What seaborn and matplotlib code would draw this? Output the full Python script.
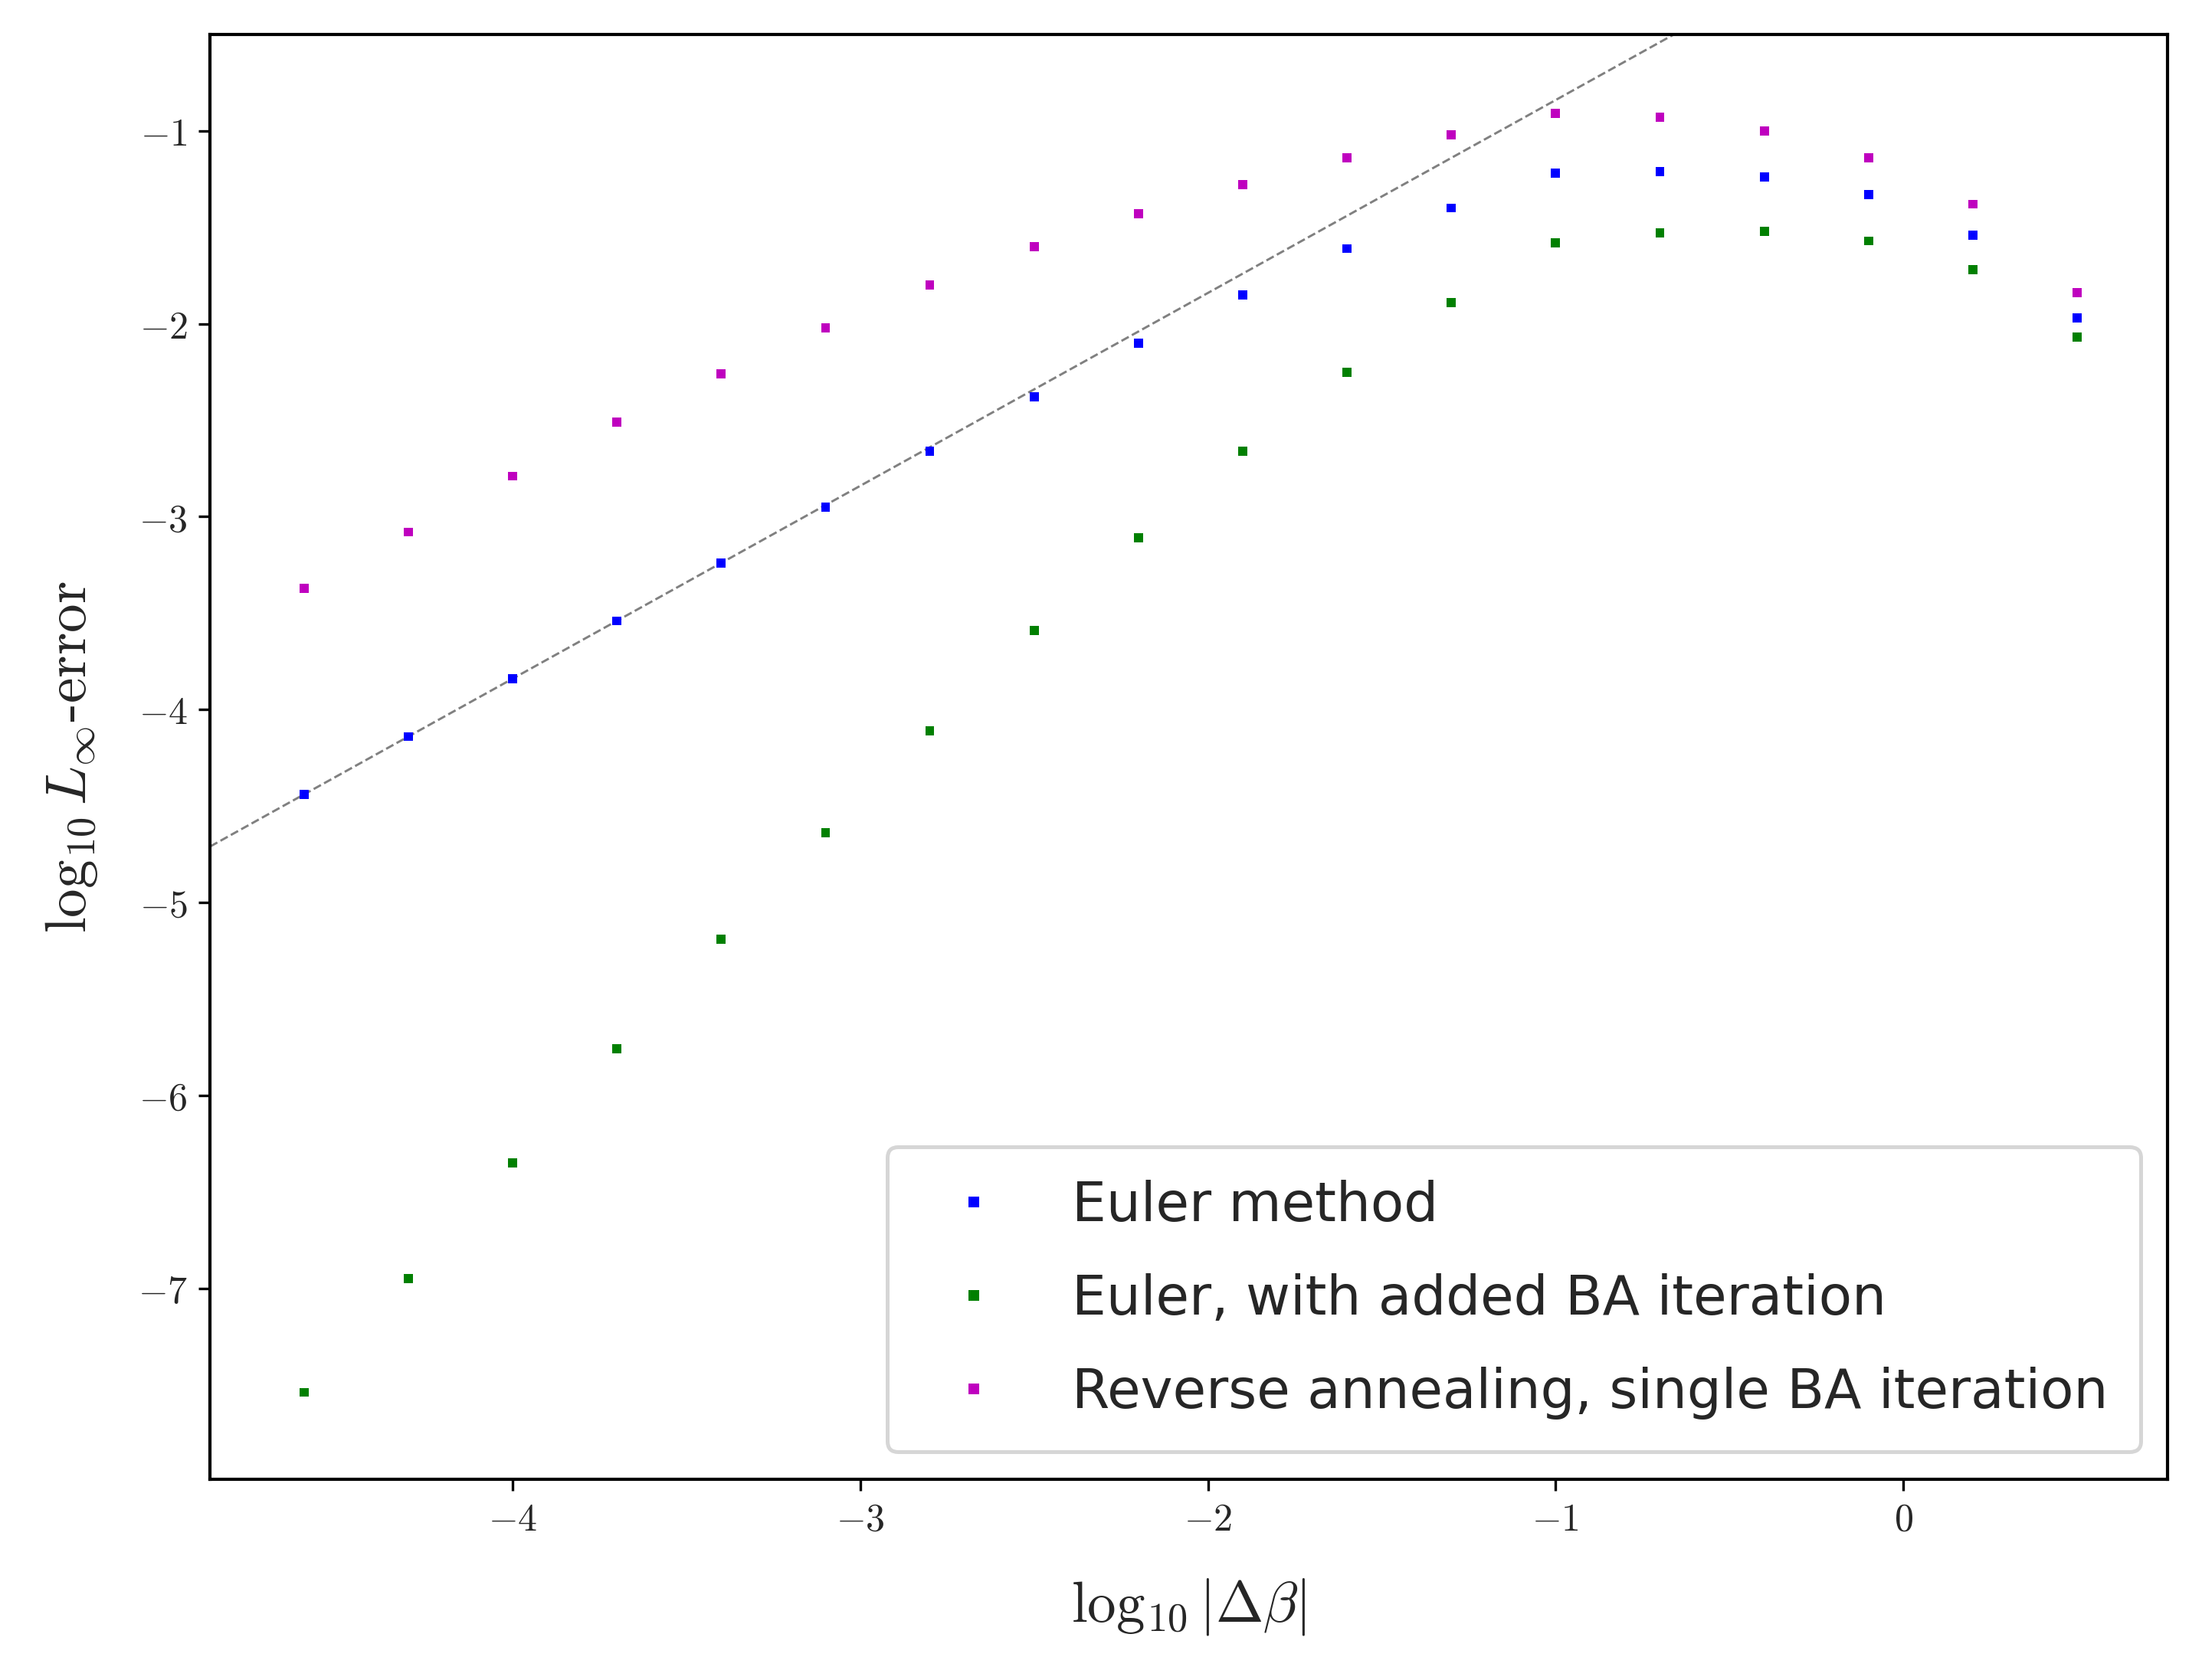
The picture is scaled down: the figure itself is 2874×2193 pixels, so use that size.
import numpy as np
import pandas as pd
import seaborn as sns
import matplotlib.pyplot as plt

log_dbeta = [-4.6, -4.3, -4.0, -3.7, -3.4, -3.1, -2.8, -2.5, -2.2, -1.9,
             -1.6, -1.3, -1.0, -0.7, -0.4, -0.1, 0.2, 0.5]
euler = [-4.44, -4.14, -3.84, -3.54, -3.24, -2.95, -2.66, -2.38, -2.10, -1.85,
         -1.61, -1.40, -1.22, -1.21, -1.24, -1.33, -1.54, -1.97]
euler_ba = [-7.54, -6.95, -6.35, -5.76, -5.19, -4.64, -4.11, -3.59, -3.11, -2.66,
            -2.25, -1.89, -1.58, -1.53, -1.52, -1.57, -1.72, -2.07]
reverse = [-3.37, -3.08, -2.79, -2.51, -2.26, -2.02, -1.80, -1.60, -1.43, -1.28,
           -1.14, -1.02, -0.91, -0.93, -1.00, -1.14, -1.38, -1.84]
labels = ["Euler method", "Euler, with added BA iteration",
          "Reverse annealing, single BA iteration"]
# reference line of slope 1
ref_slope, ref_offset = 1.0, 0.16

sns.set_style("ticks")
plt.rcParams['mathtext.fontset'] = 'cm'
plt.rcParams['font.family'] = ['DejaVu Sans']
plt.rcParams['axes.edgecolor'] = 'black'
plt.rcParams['axes.linewidth'] = 1.0

df = pd.concat([pd.DataFrame({'x': log_dbeta, 'y': v, 'method': lab})
                for v, lab in zip([euler, euler_ba, reverse], labels)])

fig, ax = plt.subplots(figsize=(9.58, 7.31))
sns.scatterplot(data=df, x='x', y='y', hue='method', palette=['b', 'g', 'm'],
                marker='s', s=8, linewidth=0, ax=ax)

xl = np.array([-4.87, 0.76])
ax.plot(xl, ref_slope * xl + ref_offset, '--', color='grey', lw=0.7, zorder=0)
ax.set_xlim(-4.87, 0.76)
ax.set_ylim(-7.99, -0.5)
ax.set_xticks([-4, -3, -2, -1, 0])
ax.set_yticks([-7, -6, -5, -4, -3, -2, -1])
ax.set_xticklabels([f"$-{i}$" for i in [4, 3, 2, 1]] + ["$0$"])
ax.set_yticklabels([f"$-{i}$" for i in [7, 6, 5, 4, 3, 2, 1]])
ax.tick_params(labelsize=12, color='black')
ax.set_xlabel(r"$\log_{10}|\Delta\beta|$", fontsize=18, labelpad=12)
ax.set_ylabel(r"$\log_{10} L_\infty$-error", fontsize=18, labelpad=12,
              family=['cmr10', 'DejaVu Serif'])
leg = ax.legend(loc='lower right', fontsize=17, markerscale=1.2, title=None,
                labelspacing=0.75, borderpad=0.6)
leg.get_frame().set_linewidth(1.2)
plt.tight_layout()
plt.savefig("out.png", dpi=300)
